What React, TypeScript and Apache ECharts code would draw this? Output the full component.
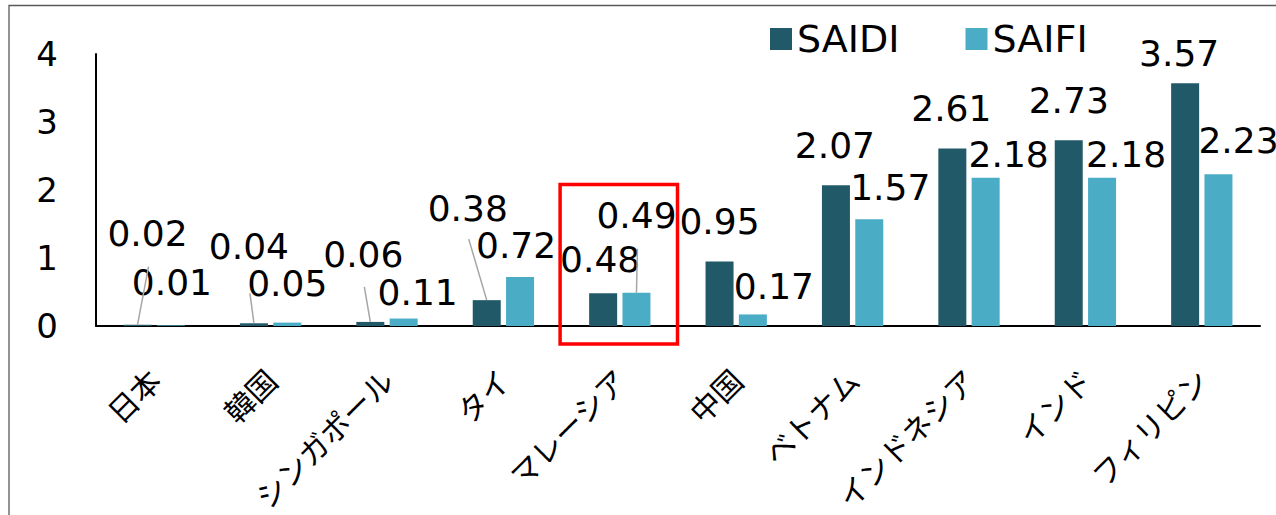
import { useEffect, useRef } from "react";
import * as echarts from "echarts";

// Reliability indices by country
const categories = [
  "日本",
  "韓国",
  "シンガポール",
  "タイ",
  "マレーシア",
  "中国",
  "ベトナム",
  "インドネシア",
  "インド",
  "フィリピン",
];
const saidiValues = [0.02, 0.04, 0.06, 0.38, 0.48, 0.95, 2.07, 2.61, 2.73, 3.57];
const saifiValues = [0.01, 0.05, 0.11, 0.72, 0.49, 0.17, 1.57, 2.18, 2.18, 2.23];
const seriesNames = ["SAIDI", "SAIFI"];
const yAxisMin = 0;
const yAxisMax = 4;
const yAxisStep = 1;

// Label placement relative to each bar's top centre, in px: [dx, dy]
const saidiLabelOffsets = [
  [10, -91], [-5, -77], [-7, -67], [-19, -92], [-3, -34],
  [0, -40], [-1, -40], [-1, -40], [0, -40], [-6, -30],
];
const saifiLabelOffsets = [
  [1, -43], [0, -39], [14, -26], [-4, -32], [0, -77],
  [21, -28], [21, -32], [23, -23], [24, -23], [20, -34],
];
// Leader lines: gap (px) between the label centre and the line's upper end; 0 = no line
const saidiLeaderGaps = [33, 47, 32, 31, 0, 0, 0, 0, 0, 0];
const saifiLeaderGaps = [0, 0, 0, 0, 33, 0, 0, 0, 0, 0];

// Highlight frame around one category
const highlightedCategory = "マレーシア";
const highlightTopValue = 2.08;

const BAR_WIDTH = 28;
const BAR_GAP_RATIO = 0.19;
const BAR_SHIFT = (BAR_WIDTH + BAR_WIDTH * BAR_GAP_RATIO) / 2;
const LATIN_FONT = "'DejaVu Sans', 'Noto Sans CJK JP', sans-serif";
const CJK_FONT = "'Noto Sans CJK JP', sans-serif";

function buildSeriesData(values: number[], offsets: number[][]) {
  return values.map((v, i) => ({
    value: v,
    label: { position: [BAR_WIDTH / 2 + offsets[i][0], offsets[i][1]] },
  }));
}

function barSeries(name: string, color: string, data: any[]) {
  return {
    name,
    type: "bar",
    barWidth: BAR_WIDTH,
    barGap: `${BAR_GAP_RATIO * 100}%`,
    itemStyle: { color },
    label: {
      show: true,
      fontSize: 36,
      color: "#000000",
      fontFamily: LATIN_FONT,
      align: "center",
      verticalAlign: "middle",
      formatter: (p: any) => Number(p.value).toFixed(2),
    },
    data,
  };
}

type Leader = { cat: number; value: number; side: number; offset: number[]; gap: number };

function collectLeaders(): Leader[] {
  const out: Leader[] = [];
  saidiValues.forEach((v, i) => {
    if (saidiLeaderGaps[i] > 0)
      out.push({ cat: i, value: v, side: -1, offset: saidiLabelOffsets[i], gap: saidiLeaderGaps[i] });
  });
  saifiValues.forEach((v, i) => {
    if (saifiLeaderGaps[i] > 0)
      out.push({ cat: i, value: v, side: 1, offset: saifiLabelOffsets[i], gap: saifiLeaderGaps[i] });
  });
  return out;
}

export default function App() {
  const ref = useRef<HTMLDivElement>(null);

  useEffect(() => {
    if (!ref.current) return;
    const chart = echarts.init(ref.current, null, { renderer: "svg" });
    const leaders = collectLeaders();

    chart.setOption({
      animation: false,
      backgroundColor: "#ffffff",
      grid: {
        left: 96,
        right: 16,
        top: 54,
        bottom: 189,
        containLabel: false,
        outerBoundsMode: "none",
      },
      legend: {
        left: 765,
        top: 15,
        icon: "rect",
        itemWidth: 22,
        itemHeight: 22,
        itemGap: 66,
        textStyle: { fontSize: 38, color: "#000000", fontFamily: LATIN_FONT },
        data: seriesNames,
      },
      xAxis: {
        type: "category",
        data: categories,
        axisLine: { show: true, lineStyle: { color: "#000000", width: 2 } },
        axisTick: { show: false },
        axisLabel: {
          interval: 0,
          rotate: 45,
          margin: 48,
          fontSize: 30,
          color: "#000000",
          fontFamily: CJK_FONT,
        },
      },
      yAxis: {
        type: "value",
        min: yAxisMin,
        max: yAxisMax,
        interval: yAxisStep,
        axisLine: { show: true, lineStyle: { color: "#000000", width: 2 } },
        axisTick: { show: false },
        splitLine: { show: false },
        axisLabel: {
          fontSize: 34,
          color: "#000000",
          margin: 38,
          fontFamily: LATIN_FONT,
        },
      },
      series: [
        barSeries(seriesNames[0], "#215968", buildSeriesData(saidiValues, saidiLabelOffsets)),
        barSeries(seriesNames[1], "#4BACC6", buildSeriesData(saifiValues, saifiLabelOffsets)),
        {
          // leader lines joining moved labels to their bars
          type: "custom",
          name: "leaders",
          silent: true,
          z: 3,
          data: leaders.map((l) => [l.cat, l.value]),
          renderItem: (params: any, api: any) => {
            const l = leaders[params.dataIndex];
            const p = api.coord([api.value(0), api.value(1)]);
            const x0 = p[0] + l.side * BAR_SHIFT;
            const y0 = p[1];
            return {
              type: "line",
              shape: {
                x1: x0,
                y1: y0,
                x2: x0 + l.offset[0] + 1,
                y2: y0 + l.offset[1] + l.gap,
              },
              style: { stroke: "#A6A6A6", lineWidth: 1.5 },
            };
          },
        },
      ],
    });

    // Frame around the highlighted category, sized from the axes
    const idx = categories.indexOf(highlightedCategory);
    const cx = chart.convertToPixel({ xAxisIndex: 0 }, highlightedCategory) as number;
    const nx = chart.convertToPixel({ xAxisIndex: 0 }, categories[idx + 1]) as number;
    const band = nx - cx;
    const yTop = chart.convertToPixel({ yAxisIndex: 0 }, highlightTopValue) as number;
    const yBase = chart.convertToPixel({ yAxisIndex: 0 }, 0) as number;

    chart.setOption({
      graphic: [
        {
          type: "rect",
          silent: true,
          shape: { x: 9, y: 5.5, width: 1400, height: 700 },
          style: { fill: "none", stroke: "#595959", lineWidth: 1.3 },
        },
        {
          type: "rect",
          silent: true,
          z: 100,
          shape: {
            x: cx - band / 2 - 1.5,
            y: yTop,
            width: band + 1,
            height: yBase + 18 - yTop,
          },
          style: { fill: "none", stroke: "#FF0000", lineWidth: 3.5 },
        },
      ],
    });

    return () => chart.dispose();
  }, []);

  return (
    <div
      ref={ref}
      style={{ position: "absolute", left: 0, top: 0, width: 1276, height: 515 }}
    />
  );
}
